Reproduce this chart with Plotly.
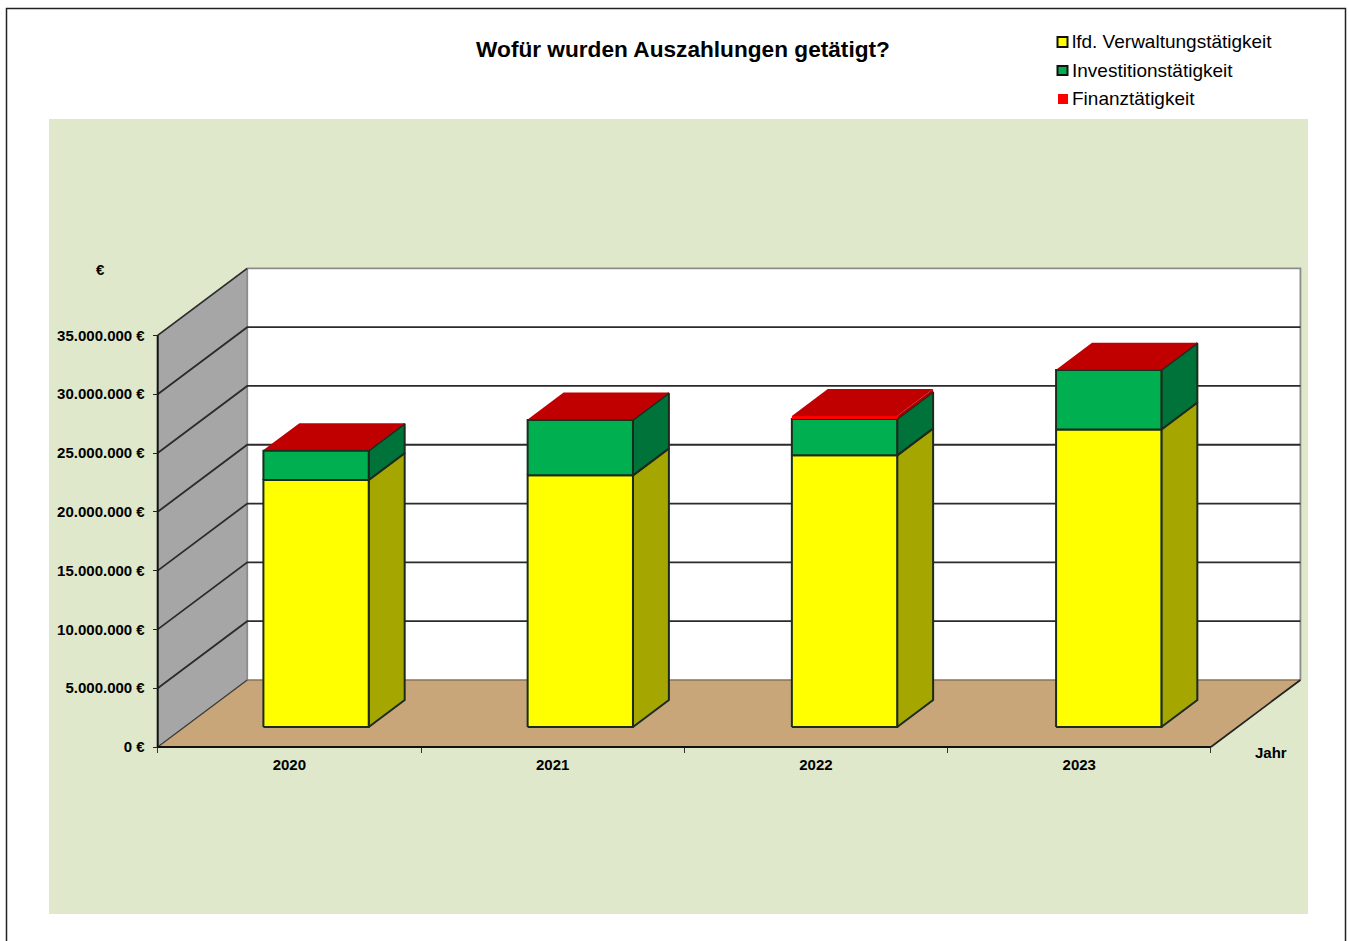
import plotly.graph_objects as go

# ---- data (values in million EUR) ----
years = ["2020", "2021", "2022", "2023"]
verwaltung = [21.0, 21.4, 23.1, 25.3]
investition = [2.5, 4.7, 3.1, 5.05]
finanz = [0.05, 0.05, 0.25, 0.03]
series_names = ["lfd. Verwaltungstätigkeit", "Investitionstätigkeit", "Finanztätigkeit"]
value_ticks = [0, 5, 10, 15, 20, 25, 30, 35]
tick_labels = ["0 €", "5.000.000 €", "10.000.000 €", "15.000.000 €", "20.000.000 €",
               "25.000.000 €", "30.000.000 €", "35.000.000 €"]

# ---- oblique projection of the 3D box into axis units ----
DX, DY = 0.34, 5.70
Y_MAX = 35
BAR_LEFT, BAR_RIGHT = 0.3, 0.7
BAR_STEP = 1.0035
D_FRONT, D_BACK = 0.2985, 0.70
PX_X, PX_Y = 263.3, 11.76


def P(x, v, d):
    return x + d * DX, v + d * DY


def poly(pts):
    xs, ys = zip(*pts)
    return list(xs) + [xs[0]], list(ys) + [ys[0]]


fig = go.Figure()


def face(pts, fill, line=None, width=2):
    xs, ys = poly(pts)
    fig.add_trace(go.Scatter(
        x=xs, y=ys, mode="lines", fill="toself", fillcolor=fill, showlegend=False,
        hoverinfo="skip",
        line=dict(color=line or fill, width=width if line else 0)))


def path(xs, ys, color, width):
    fig.add_trace(go.Scatter(x=xs, y=ys, mode="lines", showlegend=False, hoverinfo="skip",
                             line=dict(color=color, width=width)))


n = len(years)
# walls and floor
face([P(0, 0, 0), P(0, 0, 1), P(0, Y_MAX, 1), P(0, Y_MAX, 0)], "#A6A6A6")
face([P(0, 0, 1), P(n, 0, 1), P(n, Y_MAX, 1), P(0, Y_MAX, 1)], "#FFFFFF")
face([P(0, 0, 0), P(n, 0, 0), P(n, 0, 1), P(0, 0, 1)], "#C8A67A")

# wall edges
xs, ys = zip(*[P(0, Y_MAX, 1), P(n, Y_MAX, 1), P(n, 0, 1)])
path(list(xs), list(ys), "#8C8C8C", 1.8)
xs, ys = zip(*[P(0, 0, 1), P(0, Y_MAX, 1)])
path(list(xs), list(ys), "#8C8C8C", 1.8)
xs, ys = zip(*[P(0, 0, 1), P(n, 0, 1)])
path(list(xs), list(ys), "#8B7355", 1.5)

# gridlines across side wall and back wall
gx, gy = [], []
for v in value_ticks[1:]:
    pts = (P(0, v, 0), P(0, v, 1), P(n, v, 1)) if v < Y_MAX else (P(0, v, 0), P(0, v, 1))
    for pt in pts:
        gx.append(pt[0])
        gy.append(pt[1])
    gx.append(None)
    gy.append(None)
path(gx, gy, "#2B2B2B", 1.8)

xs, ys = zip(*[P(0, 0, 0), P(0, 0, 1)])
path(list(xs), list(ys), "#3A3A3A", 1.3)
xs, ys = zip(*[P(n, 0, 0), P(n, 0, 1)])
path(list(xs), list(ys), "#222222", 1.8)
path([0, 0], [0, Y_MAX], "#111111", 2)
path([0, n], [0, 0], "#111111", 2)

# bars
OUT = "#1C2B1C"
segments = [
    (verwaltung, "#FFFF00", "#A6A600", None, OUT),
    (investition, "#00B050", "#00733A", None, OUT),
    (finanz, "#FF0000", "#A60000", "#C00000", None),
]
for i in range(n):
    base = 0.0
    xl, xr = i * BAR_STEP + BAR_LEFT, i * BAR_STEP + BAR_RIGHT
    for vals, front, side, top, line in segments:
        h = base + vals[i]
        face([P(xr, base, D_FRONT), P(xr, base, D_BACK), P(xr, h, D_BACK), P(xr, h, D_FRONT)], side, line)
        if top:
            face([P(xl, h, D_FRONT), P(xr, h, D_FRONT), P(xr, h, D_BACK), P(xl, h, D_BACK)], top)
        face([P(xl, base, D_FRONT), P(xr, base, D_FRONT), P(xr, h, D_FRONT), P(xl, h, D_FRONT)], front, line)
        base = h

# ---- layout: plot area extends a little past the box so its edge lines are not clipped ----
ORIGIN_X, ORIGIN_Y = 157.7, 747
L, R, T, B = 150, 1310, 258, 755
Xp = lambda x: (x - L) / (R - L)
Yp = lambda y: (B - y) / (B - T)


def rect(x0, y0, x1, y1, **kw):
    return dict(type="rect", xref="paper", yref="paper", x0=Xp(x0), x1=Xp(x1),
                y0=Yp(y0), y1=Yp(y1), layer="below", **kw)


shapes = [
    rect(6.5, 8.5, 1345.5, 960, fillcolor="#FFFFFF", line=dict(color="#222222", width=1.5)),
    rect(49, 119, 1308, 914, fillcolor="#DFE8CB", line=dict(width=0)),
    rect(1057.5, 37, 1067.5, 47, fillcolor="#FFFF00", line=dict(color="#111111", width=2)),
    rect(1057.5, 66, 1067.5, 75, fillcolor="#00B050", line=dict(color="#111111", width=2)),
    rect(1058, 94, 1068, 104, fillcolor="#FF0000", line=dict(width=0)),
]

FONT = "Liberation Sans, Arial, sans-serif"
annots = []
for name, y in zip(series_names, (41.5, 70.5, 98.5)):
    annots.append(dict(text=name, xref="paper", yref="paper", x=Xp(1070), y=Yp(y),
                       xanchor="left", yanchor="middle", showarrow=False,
                       font=dict(family=FONT, size=19, color="#000000")))
annots.append(dict(text="<b>€</b>", xref="paper", yref="paper", x=Xp(100), y=Yp(269.5),
                   xanchor="center", yanchor="middle", showarrow=False,
                   font=dict(family=FONT, size=15, color="#000000")))
annots.append(dict(text="<b>Jahr</b>", xref="paper", yref="paper", x=Xp(1270.5), y=Yp(752.5),
                   xanchor="center", yanchor="middle", showarrow=False,
                   font=dict(family=FONT, size=15, color="#000000")))

fig.update_layout(
    width=1349, height=941, autosize=False,
    margin=dict(l=L, r=1349 - R, t=T, b=941 - B, pad=0, autoexpand=False),
    paper_bgcolor="#FFFFFF", plot_bgcolor="rgba(0,0,0,0)",
    title=dict(text="<b>Wofür wurden Auszahlungen getätigt?</b>", x=683 / 1349, y=1 - 49.5 / 941,
               xanchor="center", yanchor="middle", xref="container", yref="container",
               font=dict(family=FONT, size=22.65, color="#000000")),
    showlegend=False,
    shapes=shapes, annotations=annots,
    xaxis=dict(range=[(L - ORIGIN_X) / PX_X, (R - ORIGIN_X) / PX_X],
               anchor="free", position=Yp(ORIGIN_Y),
               showgrid=False, zeroline=False, showline=False,
               tickmode="array", tickvals=[i + 0.5 for i in range(n)], ticktext=years,
               ticks="", ticklabelstandoff=7,
               tickfont=dict(family=FONT, size=15, color="#000000", weight="bold"),
               minor=dict(tickmode="array", tickvals=list(range(n + 1)), ticks="outside",
                          ticklen=5, tickcolor="#333333", tickwidth=1, showgrid=False)),
    yaxis=dict(range=[(ORIGIN_Y - B) / PX_Y, (ORIGIN_Y - T) / PX_Y],
               anchor="free", position=Xp(ORIGIN_X),
               showgrid=False, zeroline=False, showline=False,
               tickmode="array", tickvals=value_ticks, ticktext=tick_labels,
               ticks="outside", ticklen=5, tickcolor="#222222", tickwidth=1.3,
               ticklabelstandoff=5,
               tickfont=dict(family=FONT, size=15, color="#000000", weight="bold")),
)

fig.write_html("out.html", config=dict(displayModeBar=False),
               post_script="document.body.style.margin='0';document.body.style.overflow='hidden';")
